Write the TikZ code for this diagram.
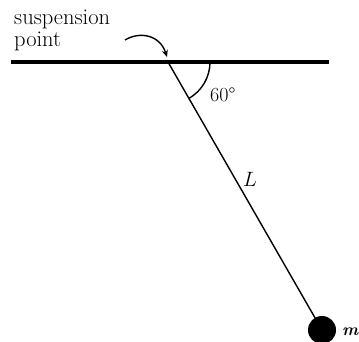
\documentclass[tikz,border=0pt]{standalone}
\usepackage{textcomp}
\usetikzlibrary{arrows.meta,calc}
\begin{document}
\begin{tikzpicture}[x=1pt,y=-1pt,
  lbl/.style={inner sep=0pt, anchor=base west, font=\fontsize{22.5}{26}\selectfont},
  rod/.style={line width=1.4pt},
]
\useasboundingbox (0,0) rectangle (359,342);
\coordinate (left) at (11,62);
\coordinate (right) at (329,62);
\coordinate (S) at (168,62);
\coordinate (B) at (322,330);
\draw[line width=3.5pt] (left) -- (right);
\draw[rod] (S) -- (B);
\fill (B) circle (14);
\draw[line width=1.4pt] ($(S)+(42,0)$) arc[start angle=0, end angle=60, radius=42];
\node[lbl] (t1) at (14,25) {suspension};
\node[lbl] (t2) at (14,46.5) {point};
\node[lbl, font=\fontsize{20}{22}\selectfont] (ang) at (210,102) {60\textdegree};
\node[lbl, font=\fontsize{21}{24}\selectfont] (len) at (243,187) {$L$};
\node[lbl, font=\fontsize{17}{20}\selectfont\bfseries\itshape] (m) at (342,335) {m};
\coordinate (a0) at (125,40);
\draw[line width=1.4pt, -{Stealth[length=7pt,width=6pt]}] (a0) .. controls (140,31) and (160,35) .. (167,57);
\end{tikzpicture}
\end{document}
